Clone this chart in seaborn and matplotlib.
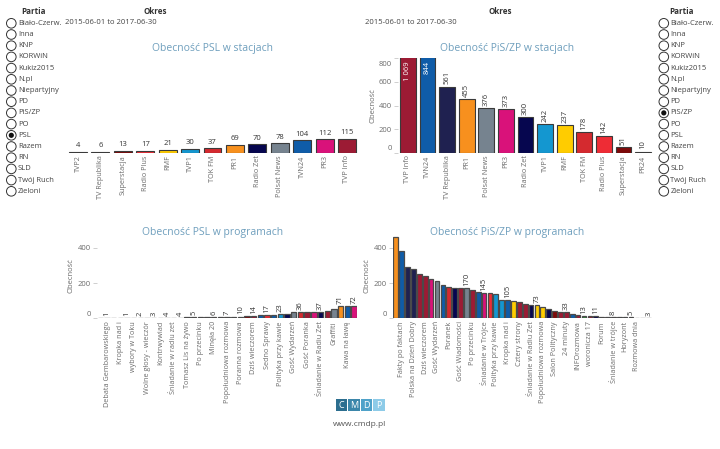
import matplotlib
matplotlib.use("Agg")
import matplotlib.pyplot as plt
import matplotlib.transforms as mtrans
from matplotlib.patches import Circle, Rectangle
import seaborn as sns
import pandas as pd

# ---------------- data ----------------
parties = ["Biało-Czerw.", "Inna", "KNP", "KORWiN", "Kukiz2015", "N.pl", "Niepartyjny",
           "PD", "PiS/ZP", "PO", "PSL", "Razem", "RN", "SLD", "Twój Ruch", "Zieloni"]
period = "2015-06-01 to 2017-06-30"

station_colors = {
    "TVP Info": "#9c1b34", "TVN24": "#0f5ca8", "TV Republika": "#1f2150",
    "PR1": "#f7901e", "Polsat News": "#76838f", "PR3": "#d9127a",
    "Radio Zet": "#06064f", "TVP1": "#1497d0", "RMF": "#ffcc00",
    "TOK FM": "#d42a2f", "Radio Plus": "#ee2c35", "Superstacja": "#7d0a0a",
    "PR24": "#2f8a3a", "TVP2": "#2e2e2e",
}

psl_stations = ["TVP2", "TV Republika", "Superstacja", "Radio Plus", "RMF", "TVP1", "TOK FM",
                "PR1", "Radio Zet", "Polsat News", "TVN24", "PR3", "TVP Info"]
psl_station_values = [4, 6, 13, 17, 21, 30, 37, 69, 70, 78, 104, 112, 115]

pis_stations = ["TVP Info", "TVN24", "TV Republika", "PR1", "Polsat News", "PR3", "Radio Zet",
                "TVP1", "RMF", "TOK FM", "Radio Plus", "Superstacja", "PR24"]
pis_station_values = [1069, 844, 561, 455, 376, 373, 300, 242, 237, 178, 142, 51, 10]

# PSL programmes (ascending); names visible on every other bar
psl_program_values = [1, 1, 1, 1, 1, 2, 2, 3, 3, 4, 4, 4, 4, 5, 5, 6, 6, 6, 7, 7,
                      9, 10, 12, 14, 16, 17, 21, 23, 27, 33, 36, 36, 36, 37, 40, 50, 71, 71, 72]
psl_program_station = ["Polsat News", "Polsat News", "Polsat News", "TVN24", "Polsat News",
                       "TVP Info", "TVP Info", "Polsat News", "TVP Info", "RMF", "TVP2",
                       "Radio Zet", "TVP2", "TVP2", "TVP2", "TV Republika", "Superstacja",
                       "TVP Info", "Superstacja", "RMF", "TVP1", "RMF", "Superstacja",
                       "TVP Info", "TVN24", "Radio Plus", "TVN24", "TVP1", "Radio Zet",
                       "Polsat News", "TOK FM", "TVP Info", "PR3", "Radio Zet", "TVP Info",
                       "Polsat News", "PR1", "TVN24", "PR3"]
psl_program_names = ["Debata Gembarowskiego", "Kropka nad i", "wybory w Toku",
                     "Wolne głosy - wieczór", "Kontrwywiad", "Śniadanie w radiu zet",
                     "Tomasz Lis na żywo", "Po przecinku", "Minęła 20", "Popołudniowa rozmowa",
                     "Poranna rozmowa", "Dziś wieczorem", "Sedno Sprawy", "Polityka przy kawie",
                     "Gość Wydarzeń", "Gość Poranka", "Śniadanie w Radiu Zet", "Graffiti",
                     "Kawa na ławę"]
psl_program_labelled = [1, 4, 6, 8, 10, 12, 14, 17, 19, 21, 23, 25, 27, 30, 33, 36, 38]

# PiS/ZP programmes (descending)
pis_program_values = [464, 384, 290, 278, 250, 240, 225, 212, 187, 180, 172, 171, 170, 163,
                      148, 145, 143, 140, 106, 105, 100, 91, 81, 78, 73, 64, 53, 42, 36, 33,
                      27, 17, 13, 12, 11, 10, 9, 8, 7, 6, 5, 4, 4, 3]
pis_program_station = ["PR1", "TVN24", "TV Republika", "TV Republika", "TVP Info", "TVP Info",
                       "PR3", "Polsat News", "TVN24", "TOK FM", "Radio Zet", "TVP Info",
                       "Polsat News", "TVP Info", "TVN24", "PR3", "Radio Plus", "TVP1", "TVP1",
                       "TVN24", "RMF", "TVP Info", "TVP Info", "Radio Zet", "RMF", "RMF",
                       "Radio Zet", "Superstacja", "TVP Info", "TVP Info", "TVN24", "TVP Info",
                       "PR24", "TVP Info", "Radio Zet", "TVP Info", "TV Republika", "PR3",
                       "TV Republika", "TVN24", "Polsat News", "Polsat News", "Polsat News",
                       "Polsat News"]
pis_program_names = ["Fakty po faktach", "Polska na Dzień Dobry", "Dziś wieczorem",
                     "Gość Wydarzeń", "Poranek", "Gość Wiadomości", "Po przecinku",
                     "Śniadanie w Trójce", "Polityka przy kawie", "Kropka nad i",
                     "Cztery strony", "Śniadanie w Radiu Zet", "Popołudniowa rozmowa",
                     "Salon Polityczny", "24 minuty", "INFOrozmowa", "woronicza 17", "Forum",
                     "Śniadanie w trójce", "Horyzont", "Rozmowa dnia"]
pis_program_labelled = [12, 15, 19, 24, 29, 32, 34, 37, 40, 43]

titles = ["Obecność PSL w stacjach", "Obecność PiS/ZP w stacjach",
          "Obecność PSL w programach", "Obecność PiS/ZP w programach"]

# ---------------- style ----------------
sns.set_theme(style="white")
plt.rcParams['font.family'] = ['Open Sans', 'DejaVu Sans']

W, H = 720, 449
fig = plt.figure(figsize=(7.2, 4.49), dpi=100)
fig.patch.set_facecolor("white")

bg = fig.add_axes([0, 0, 1, 1])
bg.set_xlim(0, W)
bg.set_ylim(H, 0)
bg.axis("off")

TICK_C = "#6b6b6b"
TITLE_C = "#6f9fbd"
EDGE = "#3a3a3a"


def ax_px(x0, y0, x1, y1):
    return fig.add_axes([x0 / W, 1 - y1 / H, (x1 - x0) / W, (y1 - y0) / H])


def draw_bars(ax, vals, colors, lw, edge=EDGE):
    ids = [f"b{i}" for i in range(len(vals))]
    df = pd.DataFrame({"id": ids, "val": vals})
    sns.barplot(data=df, x="id", y="val", hue="id", order=ids, hue_order=ids,
                palette=colors, legend=False, ax=ax, width=0.8, saturation=1,
                edgecolor=edge, linewidth=lw)
    ax.set_xlabel("")
    ax.set_ylabel("")
    for s in ax.spines.values():
        s.set_visible(False)
    ax.set_facecolor("none")
    return ids


def nudge(label, dy_px):
    label.set_transform(label.get_transform() +
                        mtrans.ScaledTranslation(0, dy_px / 100, fig.dpi_scale_trans))


def style_y(ax, ticks, ylab, nudge_top=True):
    ax.set_yticks(ticks)
    ax.set_yticklabels([str(t) for t in ticks])
    ax.tick_params(axis="y", length=3, width=0.6, color="#c8c8c8", labelsize=5.5,
                   labelcolor=TICK_C, pad=1.5, left=True)
    labs = ax.get_yticklabels()
    nudge(labs[0], 5)
    if nudge_top:
        nudge(labs[-1], -5)
    ax.set_ylabel(ylab, fontsize=5.5, color=TICK_C, labelpad=2)


def style_x(ax, positions, names):
    ax.set_xticks(positions)
    ax.set_xticklabels(names, rotation=90, fontsize=5.2, color=TICK_C)
    ax.tick_params(axis="x", length=0, pad=2)


# ---- top-left: PSL stations ----
ax1 = ax_px(66.8, 58.3, 358.2, 152.7)
draw_bars(ax1, psl_station_values, [station_colors[s] for s in psl_stations], 0.8)
ax1.set_ylim(0, 800)
ax1.set_yticks([])
style_x(ax1, range(len(psl_stations)), psl_stations)
for i, v in enumerate(psl_station_values):
    ax1.annotate(str(v), (i, v), xytext=(0, 2), textcoords="offset points",
                 ha="center", va="bottom", fontsize=5.5, color="#333333")

# ---- top-right: PiS/ZP stations ----
ax2 = ax_px(398.2, 58.3, 652.8, 152.7)
draw_bars(ax2, pis_station_values, [station_colors[s] for s in pis_stations], 0.8)
ax2.set_ylim(0, 800)
style_y(ax2, [0, 200, 400, 600, 800], "Obecność")
style_x(ax2, range(len(pis_stations)), pis_stations)
for i, v in enumerate(pis_station_values):
    txt = f"{v:,}".replace(",", " ")
    if v > 800:
        ax2.annotate(txt, (i, 800), xytext=(0, -2), textcoords="offset points",
                     ha="center", va="top", rotation=90, fontsize=5.5, color="white")
    else:
        ax2.annotate(txt, (i, v), xytext=(0, 1.5), textcoords="offset points",
                     ha="center", va="bottom", rotation=90, fontsize=5.5, color="#333333")

# ---- bottom-left: PSL programmes ----
ax3 = ax_px(97.0, 233.8, 357.2, 318.3)
draw_bars(ax3, psl_program_values, [station_colors[s] for s in psl_program_station], 0.9,
          edge="#4a4a4a")
ax3.set_ylim(0, 480)
style_y(ax3, [0, 200, 400], "Obecność", nudge_top=False)
style_x(ax3, range(1, 2 * len(psl_program_names), 2), psl_program_names)
for i in psl_program_labelled:
    v = psl_program_values[i]
    ax3.annotate(str(v), (i, v), xytext=(0, 1.5), textcoords="offset points",
                 ha="center", va="bottom", rotation=90, fontsize=5.5, color="#333333")

# ---- bottom-right: PiS/ZP programmes ----
ax4 = ax_px(392.9, 233.8, 651.6, 318.3)
draw_bars(ax4, pis_program_values, [station_colors[s] for s in pis_program_station], 0.9,
          edge="#4a4a4a")
ax4.set_ylim(0, 480)
style_y(ax4, [0, 200, 400], "Obecność", nudge_top=False)
style_x(ax4, range(1, 2 * len(pis_program_names), 2), pis_program_names)
for i in pis_program_labelled:
    v = pis_program_values[i]
    ax4.annotate(str(v), (i, v), xytext=(0, 1.5), textcoords="offset points",
                 ha="center", va="bottom", rotation=90, fontsize=5.5, color="#333333")

# ---- titles ----
for (x, y), t in zip([(213, 48), (507, 48), (213, 233), (507, 233)], titles):
    bg.text(x, y, t, ha="center", va="center", fontsize=7.5, color=TITLE_C)

# ---- slicers ----
def slicer(cx, tx, hx, selected):
    bg.text(hx, 11, "Partia", ha="center", va="center", fontsize=5.8,
            fontweight="bold", color="#333333")
    for k, p in enumerate(parties):
        y = 23.3 + 11.2 * k
        bg.add_patch(Circle((cx, y), 4.8, facecolor="white", edgecolor="#333333", lw=0.7))
        if p == selected:
            bg.add_patch(Circle((cx, y), 2.6, facecolor="#111111", edgecolor="none"))
        bg.text(tx, y, p, ha="left", va="center", fontsize=5.5, color="#444444")


slicer(11.3, 18.0, 33, "PSL")
slicer(663.8, 670.5, 682, "PiS/ZP")

for hx, dx in [(155, 65), (500, 365)]:
    bg.text(hx, 11, "Okres", ha="center", va="center", fontsize=5.8,
            fontweight="bold", color="#333333")
    bg.text(dx, 22.5, period, ha="left", va="center", fontsize=5.5, color="#444444")

# ---- logo ----
logo_letters = ["C", "M", "D", "P"]
logo_colors = ["#2c6e8f", "#3b86aa", "#4fa2c9", "#8dcbe8"]
for k, (L, c) in enumerate(zip(logo_letters, logo_colors)):
    x0 = 335.5 + k * 12.5
    bg.add_patch(Rectangle((x0, 399), 11.8, 12, facecolor=c, edgecolor="none"))
    bg.text(x0 + 5.9, 405.3, L, ha="center", va="center", fontsize=6.5,
            color="white")
bg.text(360, 424, "www.cmdp.pl", ha="center", va="center", fontsize=6, color="#555555")

fig.savefig("out.png", dpi=100, facecolor="white")
